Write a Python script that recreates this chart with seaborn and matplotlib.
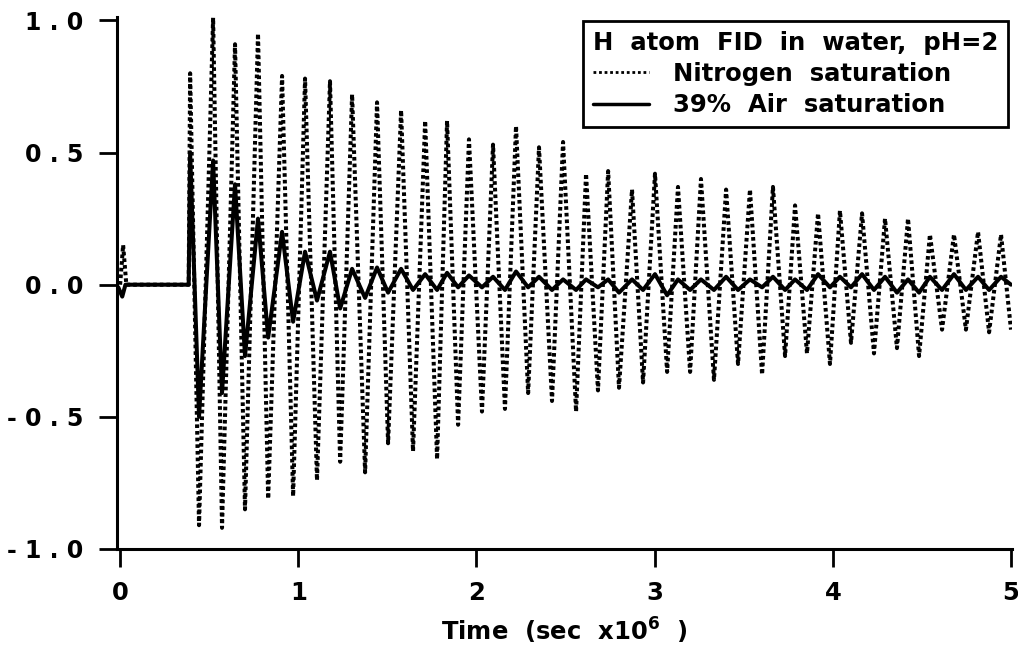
import matplotlib
matplotlib.use("Agg")
import matplotlib.pyplot as plt
from matplotlib.lines import Line2D
import pandas as pd
import seaborn as sns

# ---------------- data ----------------
# time in units of 1e-6 s
lead_time_n2 = [0.0, 0.017, 0.035, 0.385]
lead_n2 = [0.0, 0.15, 0.0, 0.0]
lead_time_air = [-0.01, 0.012, 0.03, 0.385]
lead_air = [-0.01, -0.045, 0.0, 0.0]

# alternating maxima / minima of the free-induction decay
extrema_time = [0.393, 0.443, 0.522, 0.572, 0.645, 0.701, 0.774, 0.831, 0.909, 0.971,
                1.038, 1.105, 1.178, 1.235, 1.302, 1.375, 1.442, 1.504, 1.577, 1.644,
                1.712, 1.779, 1.835, 1.897, 1.958, 2.031, 2.093, 2.160, 2.222, 2.290,
                2.351, 2.424, 2.486, 2.559, 2.615, 2.682, 2.739, 2.800, 2.873, 2.935,
                3.002, 3.070, 3.131, 3.199, 3.260, 3.333, 3.401, 3.468, 3.535, 3.603,
                3.664, 3.732, 3.788, 3.855, 3.917, 3.984, 4.040, 4.102, 4.164, 4.231,
                4.293, 4.360, 4.422, 4.484, 4.545, 4.613, 4.680, 4.747, 4.815, 4.877,
                4.944, 5.000]

nitrogen = [0.80, -0.91, 1.01, -0.92, 0.91, -0.85, 0.95, -0.81, 0.79, -0.80,
            0.78, -0.74, 0.77, -0.67, 0.72, -0.71, 0.69, -0.60, 0.66, -0.63,
            0.62, -0.66, 0.62, -0.53, 0.55, -0.48, 0.53, -0.47, 0.60, -0.41,
            0.52, -0.44, 0.54, -0.48, 0.42, -0.40, 0.43, -0.39, 0.36, -0.37,
            0.42, -0.33, 0.37, -0.33, 0.40, -0.36, 0.36, -0.30, 0.36, -0.34,
            0.37, -0.27, 0.30, -0.26, 0.27, -0.30, 0.28, -0.22, 0.27, -0.26,
            0.25, -0.24, 0.25, -0.27, 0.19, -0.17, 0.19, -0.17, 0.20, -0.18,
            0.19, -0.17]

air = [0.50, -0.50, 0.47, -0.41, 0.38, -0.27, 0.25, -0.20, 0.20, -0.14,
       0.125, -0.06, 0.125, -0.09, 0.06, -0.05, 0.065, -0.03, 0.06, -0.02,
       0.04, -0.02, 0.045, -0.01, 0.035, -0.01, 0.03, -0.02, 0.05, -0.01,
       0.03, -0.02, 0.02, -0.02, 0.02, -0.01, 0.02, -0.03, 0.02, -0.02,
       0.04, -0.04, 0.02, -0.02, 0.02, -0.02, 0.03, -0.02, 0.02, -0.01,
       0.03, -0.02, 0.02, -0.02, 0.04, -0.01, 0.03, -0.01, 0.04, -0.02,
       0.03, -0.03, 0.02, -0.03, 0.03, -0.02, 0.04, -0.02, 0.03, -0.02,
       0.03, 0.0]

x_ticks = [0, 1, 2, 3, 4, 5]
x_tick_labels = ["0", "1", "2", "3", "4", "5"]
y_ticks = [-1.0, -0.5, 0.0, 0.5, 1.0]
y_tick_labels = ["- 1 . 0", "- 0 . 5", "0 . 0", "0 . 5", "1 . 0"]

legend_title = "H  atom  FID  in  water,  pH=2"
series_labels = ["Nitrogen  saturation", "39%  Air  saturation"]
x_label = "Time  (sec  x10$^{6}$  )"

# ---------------- style ----------------
sns.set_style("ticks")
FONT = "DejaVu Sans"
plt.rcParams["font.family"] = [FONT]
plt.rcParams["font.weight"] = "bold"
plt.rcParams["text.color"] = "black"
plt.rcParams["axes.labelcolor"] = "black"
plt.rcParams["xtick.color"] = "black"
plt.rcParams["ytick.color"] = "black"
plt.rcParams["mathtext.fontset"] = "custom"
plt.rcParams["mathtext.rm"] = FONT + ":bold"
plt.rcParams["mathtext.it"] = FONT + ":bold"
plt.rcParams["mathtext.bf"] = FONT + ":bold"
plt.rcParams["mathtext.default"] = "rm"

FS = 17.5

n2_df = pd.DataFrame({"time": lead_time_n2 + extrema_time, "signal": lead_n2 + nitrogen})
air_df = pd.DataFrame({"time": lead_time_air + extrema_time, "signal": lead_air + air})

fig = plt.figure(figsize=(10.18, 6.54), dpi=100)
ax = fig.add_axes([0.115, 0.1606, 0.879, 0.813])

sns.lineplot(data=n2_df, x="time", y="signal", ax=ax, color="black",
             estimator=None, sort=False, linewidth=2.9,
             linestyle=(0, (0.9, 0.75)))
sns.lineplot(data=air_df, x="time", y="signal", ax=ax, color="black",
             estimator=None, sort=False, linewidth=2.9)

ax.set_xlim(-0.017, 5.005)
ax.set_ylim(-1.0, 1.012)

ax.set_xticks(x_ticks)
ax.set_xticklabels(x_tick_labels, fontsize=FS, fontweight="bold", color="black")
ax.set_yticks(y_ticks)
ax.set_yticklabels(y_tick_labels, fontsize=17, fontweight="bold", color="black")
ax.tick_params(axis="both", direction="out", length=13, width=2, color="black")
ax.tick_params(axis="x", pad=10)
ax.tick_params(axis="y", pad=11)

for side in ["top", "right"]:
    ax.spines[side].set_visible(False)
for side in ["left", "bottom"]:
    ax.spines[side].set_linewidth(2.2)
    ax.spines[side].set_color("black")

ax.set_xlabel(x_label, fontsize=FS, fontweight="bold", labelpad=8, color="black")
ax.set_ylabel("")
ax.grid(False)

handles = [Line2D([], [], color="black", linewidth=2.0, linestyle=(0, (1.0, 1.0))),
           Line2D([], [], color="black", linewidth=2.5)]
leg = ax.legend(handles, series_labels, title=legend_title, loc="upper right",
                bbox_to_anchor=(1.0, 1.0), frameon=True, fancybox=False,
                shadow=False, prop={"family": FONT, "weight": "bold", "size": FS},
                title_fontproperties={"family": FONT, "weight": "bold", "size": FS},
                alignment="left", handlelength=2.3, handletextpad=1.0,
                borderpad=0.4, labelspacing=0.3, borderaxespad=0.15)
leg.get_frame().set_edgecolor("black")
leg.get_frame().set_linewidth(2.0)
leg.get_frame().set_facecolor("white")
leg.get_frame().set_alpha(1.0)
leg.get_title().set_color("black")
for txt in leg.get_texts():
    txt.set_color("black")

fig.savefig("out.png", dpi=100)
